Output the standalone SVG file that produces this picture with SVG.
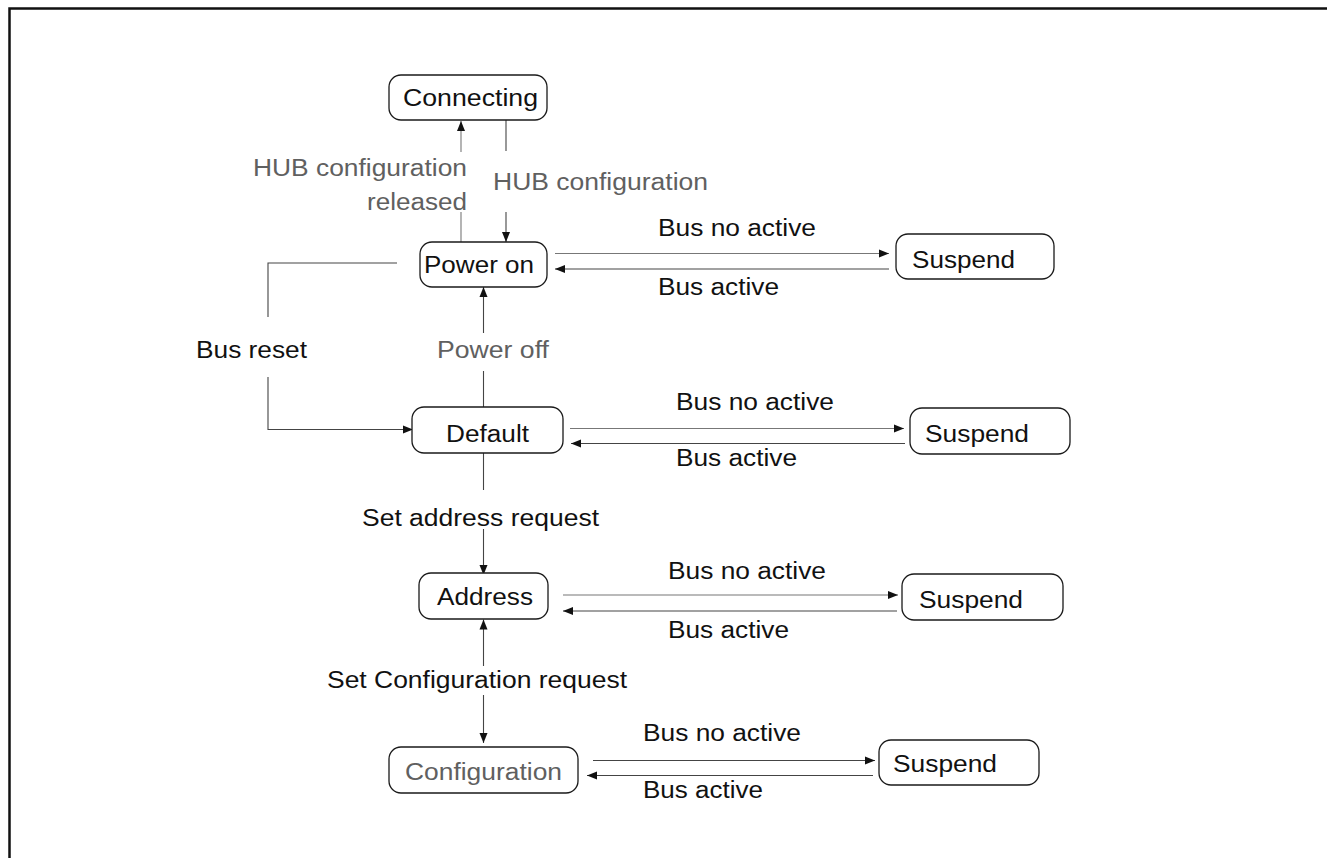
<svg xmlns="http://www.w3.org/2000/svg" width="1327" height="858" viewBox="0 0 1327 858">
<style>
.box{fill:#fff;stroke:#1a1a1a;stroke-width:1.3}
.t{font-family:"Liberation Sans",Arial,sans-serif;font-size:23px;fill:#111}
.g{fill:#606060}
.c{fill:none;stroke:#444;stroke-width:1.1}
.cg{fill:none;stroke:#777;stroke-width:1.1}
</style>
<defs>
<marker id="ah" viewBox="0 0 10 10" refX="10" refY="5" markerWidth="10" markerHeight="10" markerUnits="userSpaceOnUse" orient="auto">
<path d="M0,1 L10,5 L0,9 Z" fill="#111"/>
</marker>
</defs>
<rect width="1327" height="858" fill="#fff"/>
<path d="M9.5,858 V8.5 H1327" fill="none" stroke="#111" stroke-width="2.5"/>

<g id="connectors">
<path class="cg" d="M461,242 V212"/>
<path class="cg" d="M461,152 V121" marker-end="url(#ah)"/>
<path class="c" d="M506,120 V151"/>
<path class="c" d="M506,212 V242" marker-end="url(#ah)"/>
<path class="cg" d="M555,253.5 H889" marker-end="url(#ah)"/>
<path class="c" d="M889,269 H555" marker-end="url(#ah)"/>
<path class="c" d="M397,263 H268 V317"/>
<path class="c" d="M268,377 V429.5 H413" marker-end="url(#ah)"/>
<path class="c" d="M483.5,407 V371"/>
<path class="c" d="M483.5,333 V287" marker-end="url(#ah)"/>
<path class="cg" d="M570,428.5 H904" marker-end="url(#ah)"/>
<path class="c" d="M905,443.5 H571" marker-end="url(#ah)"/>
<path class="c" d="M483.5,453 V490"/>
<path class="c" d="M483.5,529 V575" marker-end="url(#ah)"/>
<path class="cg" d="M563,595 H898" marker-end="url(#ah)"/>
<path class="c" d="M897,611 H563" marker-end="url(#ah)"/>
<path class="c" d="M483.5,666 V619.5" marker-end="url(#ah)"/>
<path class="c" d="M483.5,695 V743" marker-end="url(#ah)"/>
<path class="c" d="M593,760.5 H875" marker-end="url(#ah)"/>
<path class="c" d="M873,775.5 H587" marker-end="url(#ah)"/>
</g>

<g id="labels">
<text class="t g" x="253" y="176" textLength="214" lengthAdjust="spacingAndGlyphs">HUB configuration</text>
<text class="t g" x="367" y="210" textLength="100" lengthAdjust="spacingAndGlyphs">released</text>
<text class="t g" x="493" y="190" textLength="215" lengthAdjust="spacingAndGlyphs">HUB configuration</text>
<text class="t" x="658" y="236" textLength="158" lengthAdjust="spacingAndGlyphs">Bus no active</text>
<text class="t" x="658" y="295" textLength="121" lengthAdjust="spacingAndGlyphs">Bus active</text>
<text class="t" x="196" y="358" textLength="111" lengthAdjust="spacingAndGlyphs">Bus reset</text>
<text class="t g" x="437" y="358" textLength="112" lengthAdjust="spacingAndGlyphs">Power off</text>
<text class="t" x="676" y="410" textLength="158" lengthAdjust="spacingAndGlyphs">Bus no active</text>
<text class="t" x="676" y="466" textLength="121" lengthAdjust="spacingAndGlyphs">Bus active</text>
<text class="t" x="362" y="526" textLength="237" lengthAdjust="spacingAndGlyphs">Set address request</text>
<text class="t" x="668" y="579" textLength="158" lengthAdjust="spacingAndGlyphs">Bus no active</text>
<text class="t" x="668" y="638" textLength="121" lengthAdjust="spacingAndGlyphs">Bus active</text>
<text class="t" x="327" y="688" textLength="300" lengthAdjust="spacingAndGlyphs">Set Configuration request</text>
<text class="t" x="643" y="741" textLength="158" lengthAdjust="spacingAndGlyphs">Bus no active</text>
<text class="t" x="643" y="798" textLength="120" lengthAdjust="spacingAndGlyphs">Bus active</text>
</g>

<g id="connecting"><rect class="box" x="389" y="75" width="158" height="45" rx="12"/><text class="t" x="403" y="106" textLength="135" lengthAdjust="spacingAndGlyphs">Connecting</text></g>
<g id="power-on"><rect class="box" x="420" y="242" width="127" height="45" rx="12"/><text class="t" x="424" y="273" textLength="110" lengthAdjust="spacingAndGlyphs">Power on</text></g>
<g id="suspend-1"><rect class="box" x="896" y="234" width="158" height="45" rx="12"/><text class="t" x="912" y="268" textLength="103" lengthAdjust="spacingAndGlyphs">Suspend</text></g>
<g id="default"><rect class="box" x="412" y="407" width="151" height="46" rx="12"/><text class="t" x="446" y="442" textLength="83" lengthAdjust="spacingAndGlyphs">Default</text></g>
<g id="suspend-2"><rect class="box" x="910" y="408" width="160" height="46" rx="12"/><text class="t" x="925" y="442" textLength="104" lengthAdjust="spacingAndGlyphs">Suspend</text></g>
<g id="address"><rect class="box" x="419" y="573" width="129" height="46" rx="12"/><text class="t" x="437" y="605" textLength="96" lengthAdjust="spacingAndGlyphs">Address</text></g>
<g id="suspend-3"><rect class="box" x="902" y="574" width="161" height="46" rx="12"/><text class="t" x="919" y="608" textLength="104" lengthAdjust="spacingAndGlyphs">Suspend</text></g>
<g id="configuration"><rect class="box" x="389" y="747" width="189" height="46" rx="12"/><text class="t g" x="405" y="780" textLength="157" lengthAdjust="spacingAndGlyphs">Configuration</text></g>
<g id="suspend-4"><rect class="box" x="879" y="740" width="160" height="45" rx="12"/><text class="t" x="893" y="772" textLength="104" lengthAdjust="spacingAndGlyphs">Suspend</text></g>
</svg>
